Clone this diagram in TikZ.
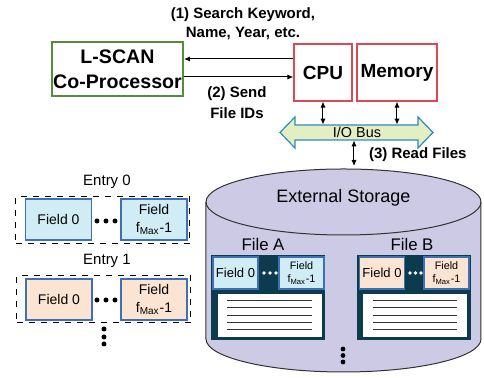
\documentclass[tikz,border=0pt]{standalone}
\usepackage{fontspec}
\setmainfont{Liberation Sans}
\usetikzlibrary{arrows.meta}
\definecolor{lscangreen}{RGB}{84,140,55}
\definecolor{cpured}{RGB}{222,72,86}
\definecolor{fieldblue}{RGB}{208,236,244}
\definecolor{fieldpeach}{RGB}{251,228,210}
\definecolor{fieldline}{RGB}{63,111,181}
\definecolor{filenavy}{RGB}{12,59,78}
\definecolor{storfill}{RGB}{205,202,229}
\definecolor{storline}{RGB}{50,50,50}
\definecolor{busfill}{RGB}{227,239,194}
\definecolor{busline}{RGB}{44,140,192}

\begin{document}
\begin{tikzpicture}[x=0.5pt,y=-0.5pt,
    unit/.style={draw, inner sep=0pt, align=center, font=\bfseries\fontsize{9.5}{12.5}\selectfont},
    field/.style={draw=fieldline, line width=0.6pt, inner sep=0pt, align=center,
      minimum width=33pt, minimum height=20.5pt, font=\fontsize{7}{9}\selectfont},
    ffield/.style={draw=fieldline, line width=0.6pt, inner sep=0pt, align=center,
      minimum width=22.5pt, minimum height=16pt},
    entrybox/.style={draw, dashed, line width=0.5pt, minimum width=87pt, minimum height=23.5pt},
    filebox/.style={fill=filenavy, inner sep=0pt, minimum width=57pt, minimum height=42.5pt},
    textarea/.style={fill=white, draw=filenavy, inner sep=0pt, minimum width=52.5pt, minimum height=22pt},
    note/.style={font=\bfseries\fontsize{7.5}{9.5}\selectfont, align=center},
    link/.style={line width=0.5pt, -{Latex[length=3pt,width=2.6pt]}},
    dlink/.style={line width=0.5pt, {Latex[length=3pt,width=2.6pt]}-{Latex[length=3pt,width=2.6pt]}}]
    \useasboundingbox (0,0) rectangle (484,378);

    % host side
    \node[unit, draw=lscangreen, line width=1pt, minimum width=65.5pt, minimum height=27pt,
      font=\bfseries\fontsize{9.8}{12.5}\selectfont] (lscan) at (117.5,69) {L-SCAN\\Co-Processor};
    \node[unit, draw=cpured, line width=0.6pt, minimum width=29pt, minimum height=28.5pt] (cpu) at (323,72.5) {CPU};
    \node[unit, draw=cpured, line width=0.6pt, minimum width=40pt, minimum height=28.5pt] (mem) at (397,72.5) {Memory};
    \draw[link] ([yshift=6.75pt]cpu.west) -- ([yshift=5pt]lscan.east);
    \draw[link] ([yshift=-4pt]lscan.east) -- ([yshift=-2.25pt]cpu.west);
    \node[note] (search) at (243,23.5) {(1) Search Keyword,\\Name, Year, etc.};
    \node[note, font=\bfseries\fontsize{7.5}{10.5}\selectfont] (send) at (237,102.5) {(2) Send\\File IDs};

    % I/O bus
    \filldraw[fill=busfill, draw=busline, line width=0.6pt] (280,132.5) -- (295,117) -- (295,125) -- (418,125)
      -- (418,117) -- (433,132.5) -- (418,148) -- (418,140) -- (295,140) -- (295,148) -- cycle;
    \node[inner sep=0pt, minimum width=60pt, minimum height=7.5pt, font=\fontsize{7.2}{8}\selectfont] (bus) at (357,132.5) {I/O Bus};
    \draw[dlink] (cpu.south) -- (cpu.south |- bus.north);
    \draw[dlink] (mem.south) -- (mem.south |- bus.north);
    \coordinate (stortop) at (354,166);
    \draw[dlink] (bus.south -| stortop) -- (stortop);
    \node[note, anchor=west] (read) at (362,155) {(3) Read Files};

    % external storage
    \filldraw[fill=storfill, draw=storline, line width=0.5pt] (206,202) -- (206,339)
      arc[start angle=180, end angle=360, x radius=68.75pt, y radius=16.5pt] -- (481,202)
      arc[start angle=0, end angle=180, x radius=68.75pt, y radius=16.5pt] -- cycle;
    \draw[storline, line width=0.5pt] (206,202) arc[start angle=180, end angle=360, x radius=68.75pt, y radius=16.5pt];
    \node[font=\fontsize{9}{10}\selectfont] (stor) at (343.5,198) {External Storage};

    % files
    \node[font=\fontsize{8.4}{9}\selectfont] (fAlabel) at (263,245) {File A};
    \node[font=\fontsize{8.4}{9}\selectfont] (fBlabel) at (412,245) {File B};
    \node[filebox] (fA) at (268.5,297.5) {};
    \node[filebox] (fB) at (414.5,297.5) {};
    \node[ffield, fill=fieldblue, font=\fontsize{6.5}{7}\selectfont] (fAf0) at (235.5,273) {Field 0};
    \node[ffield, fill=fieldblue, font=\fontsize{5.4}{6.5}\selectfont] (fAfm) at (301.5,273) {Field\\f\textsubscript{Max}-1};
    \node[ffield, fill=fieldpeach, font=\fontsize{6.5}{7}\selectfont] (fBf0) at (382,273) {Field 0};
    \node[ffield, fill=fieldpeach, font=\fontsize{5.4}{6.5}\selectfont] (fBfm) at (446.5,273) {Field\\f\textsubscript{Max}-1};
    \node[textarea] (fAtext) at (269.5,315) {};
    \node[textarea] (fBtext) at (414.5,315) {};
    \foreach \ly in {301,308,316,323,330} {
      \draw[black!80, line width=0.5pt] (227,\ly) -- (312,\ly);
      \draw[black!80, line width=0.5pt] (373,\ly) -- (457,\ly);
    }
    \foreach \dx in {264,270,276} \fill[white] (\dx,273) circle (0.9pt);
    \foreach \dx in {410,415.5,421} \fill[white] (\dx,273) circle (0.9pt);
    \foreach \dy in {349,355.5,362} \fill (343,\dy) circle (1.2pt);

    % entries
    \node[font=\fontsize{7.5}{9}\selectfont] (e0label) at (107,182) {Entry 0};
    \node[entrybox] (e0) at (103,220.5) {};
    \node[field, fill=fieldblue] (e0f0) at (58.5,219.5) {Field 0};
    \node[field, fill=fieldblue] (e0fm) at (154,219.5) {Field\\f\textsubscript{Max}-1};
    \node[font=\fontsize{7.5}{9}\selectfont] (e1label) at (107,261) {Entry 1};
    \node[entrybox] (e1) at (104,299.5) {};
    \node[field, fill=fieldpeach] (e1f0) at (59,299.5) {Field 0};
    \node[field, fill=fieldpeach] (e1fm) at (154,299.5) {Field\\f\textsubscript{Max}-1};
    \foreach \dx in {97,106,115} {
      \fill (\dx,221) circle (1.25pt);
      \fill (\dx,300) circle (1.25pt);
    }
    \foreach \dy in {329,337,344} \fill (104,\dy) circle (1.25pt);
\end{tikzpicture}
\end{document}
